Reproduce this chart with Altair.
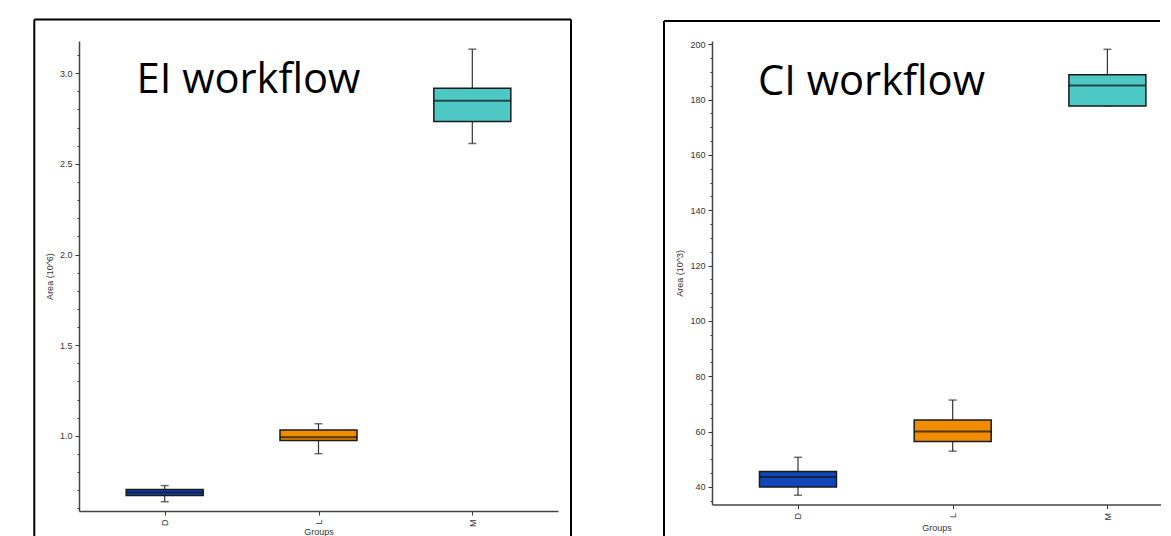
import altair as alt
import pandas as pd

groups = ["D", "L", "M"]
box_colors = ["#1146B8", "#F08C00", "#4EC8C4"]

# EI workflow, Area (10^6)
ei_min = [0.637, 0.902, 2.612]
ei_q1 = [0.672, 0.974, 2.733]
ei_med = [0.688, 0.993, 2.848]
ei_q3 = [0.704, 1.033, 2.917]
ei_max = [0.726, 1.067, 3.132]

# CI workflow, Area (10^3)
ci_min = [37.0, 52.9, 177.7]
ci_q1 = [40.0, 56.4, 177.7]
ci_med = [43.6, 60.0, 185.1]
ci_q3 = [45.6, 64.2, 189.0]
ci_max = [50.7, 71.4, 198.2]

ei_ticks = [0.6, 0.7, 0.8, 0.9, 1.0, 1.1, 1.2, 1.3, 1.4, 1.5, 1.6, 1.7, 1.8,
            1.9, 2.0, 2.1, 2.2, 2.3, 2.4, 2.5, 2.6, 2.7, 2.8, 2.9, 3.0, 3.1]
ci_ticks = [35, 40, 45, 50, 55, 60, 65, 70, 75, 80, 85, 90, 95, 100, 105, 110,
            115, 120, 125, 130, 135, 140, 145, 150, 155, 160, 165, 170, 175,
            180, 185, 190, 195, 200]

FONT = "Liberation Sans"


def panel(label, ytitle, mins, q1s, meds, q3s, maxs, domain, ticks, major_test,
          label_fmt, width, height, xpad, xalign, text_x, text_y,
          frame_l, frame_t, frame_r, xtitle_pad):
    df = pd.DataFrame({"group": groups, "lo": mins, "q1": q1s, "med": meds,
                       "q3": q3s, "hi": maxs})
    lab = pd.DataFrame({"label": [label]})

    xenc = alt.X("group:N",
                 scale=alt.Scale(type="point", domain=groups, padding=xpad,
                                 align=xalign),
                 axis=alt.Axis(title="Groups", labelAngle=270, labelFont=FONT,
                               labelFontSize=9, labelColor="#333",
                               labelPadding=4, tickSize=4, tickColor="#333",
                               domainColor="#444", domainWidth=1.5,
                               titleFont=FONT, titleFontSize=9,
                               titleFontWeight="normal", titleColor="#333",
                               titlePadding=xtitle_pad))
    yscale = alt.Scale(domain=domain, nice=False, zero=False)
    yaxis = alt.Axis(title=ytitle, values=ticks,
                     labelExpr="(" + major_test + ") ? format(datum.value, '" + label_fmt + "') : ''",
                     tickSize={"condition": {"test": major_test, "value": 4}, "value": 2},
                     tickColor="#333", domainColor="#444", domainWidth=1.5,
                     labelFont=FONT, labelFontSize=9, labelColor="#333",
                     labelPadding=3, titleFont=FONT, titleFontSize=9,
                     titleFontWeight="normal", titleColor="#333",
                     titlePadding=5, grid=False)

    base = alt.Chart(df)
    fbase = alt.Chart(lab).mark_rule(color="black", strokeWidth=2)
    layers = [
        fbase.encode(x=alt.value(frame_l), x2=alt.value(frame_r),
                     y=alt.value(frame_t)),
        fbase.encode(x=alt.value(frame_l), y=alt.value(frame_t),
                     y2=alt.value(height + 60)),
    ]
    if frame_r > width:
        layers.append(fbase.encode(x=alt.value(frame_r), y=alt.value(frame_t),
                                   y2=alt.value(height + 60)))
    whisk = base.mark_rule(color="#333", strokeWidth=1.2).encode(
        x=xenc, y=alt.Y("lo:Q", scale=yscale, axis=yaxis), y2="hi:Q")
    cap_lo = base.mark_tick(color="#333", size=8, thickness=1.5).encode(
        x=xenc, y=alt.Y("lo:Q", scale=yscale, axis=yaxis))
    cap_hi = base.mark_tick(color="#333", size=8, thickness=1.5).encode(
        x=xenc, y=alt.Y("hi:Q", scale=yscale, axis=yaxis))
    box = base.mark_bar(size=77, stroke="#1a1a1a", strokeWidth=1.5).encode(
        x=xenc, y=alt.Y("q1:Q", scale=yscale, axis=yaxis), y2="q3:Q",
        color=alt.Color("group:N", scale=alt.Scale(domain=groups, range=box_colors),
                        legend=None))
    med = base.mark_tick(color="#111", size=77, thickness=2).encode(
        x=xenc, y=alt.Y("med:Q", scale=yscale, axis=yaxis))
    text = alt.Chart(lab).mark_text(font="Open Sans", fontSize=41.7, align="left",
                                    baseline="alphabetic", color="black").encode(
        x=alt.value(text_x), y=alt.value(text_y), text="label:N")
    layers += [whisk, cap_lo, cap_hi, box, med, text]
    return alt.layer(*layers).properties(width=width, height=height)


left = panel("EI workflow", "Area (10^6)", ei_min, ei_q1, ei_med, ei_q3, ei_max,
             [0.586, 3.177], ei_ticks,
             "abs(datum.value * 2 - round(datum.value * 2)) < 0.001", ".1f",
             479, 470, 0.557, 0.5, 57.5, 51.7, -44.7, -21.4, 492, 1)
right = panel("CI workflow", "Area (10^3)", ci_min, ci_q1, ci_med, ci_q3, ci_max,
              [33.6, 201.2], ci_ticks,
              "abs(datum.value / 20 - round(datum.value / 20)) < 0.001", "d",
              449, 463.6, 0.4512, 0.616, 46, 53.6, -48, -20, 448, 3)

chart = alt.hconcat(left, right, spacing=91).properties(
    padding={"left": 25, "top": 10, "right": 0, "bottom": 5}
).configure_view(stroke=None)

chart.save("out.html", embed_options={"renderer": "svg", "actions": False})
